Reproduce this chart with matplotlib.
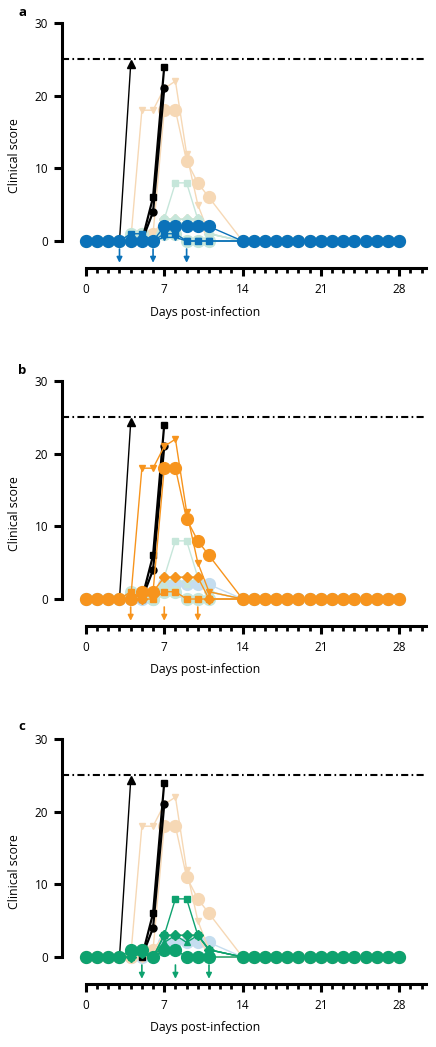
import numpy as np
import matplotlib.pyplot as plt

plt.rcParams['font.family'] = ['Open Sans', 'DejaVu Sans']

W, H = 436, 1047

# days with a clinical score (no scoring on day 12 and 13)
days = [0, 1, 2, 3, 4, 5, 6, 7, 8, 9, 10, 11,
        14, 15, 16, 17, 18, 19, 20, 21, 22, 23, 24, 25, 26, 27, 28]
late = [0, 0, 0, 0, 0, 0, 0, 0, 0, 0, 0, 0, 0, 0, 0]  # days 14-28

# untreated controls (black), only the visible part of each curve
ctrl_tri_days = [3, 4]
ctrl_tri = [0, 24.3]
ctrl_sq_days = [5, 6, 7]
ctrl_sq = [0, 6, 24]
ctrl_ci_days = [5, 6, 7]
ctrl_ci = [0, 4, 21]

# treated on days 3, 6, 9 (blue)
blue_ci = [0, 0, 0, 0, 0, 0, 0, 2, 2, 2, 2, 2] + late
blue_sq = [0, 0, 0, 0, 1, 1, 0, 1, 1, 0, 0, 0] + late
blue_tr = [0, 0, 0, 0, 0, 0, 0, 0.5, 0.5, 0, 0, 0] + late

# treated on days 4, 7, 10 (orange)
orng_tr = [0, 0, 0, 0, 0, 18, 18, 21, 22, 12, 5, 1] + late
orng_ci = [0, 0, 0, 0, 0, 1, 1, 18, 18, 11, 8, 6] + late
orng_di = [0, 0, 0, 0, 0, 0, 1, 3, 3, 3, 3, 0] + late
orng_sq = [0, 0, 0, 0, 1, 0, 0, 1, 1, 0, 0, 0] + late

# treated on days 5, 8, 11 (green)
grn_sq = [0, 0, 0, 0, 0.5, 0.5, 0, 3, 8, 8, 3, 1] + late
grn_di = [0, 0, 0, 0, 0, 0.5, 0, 3, 3, 3, 3, 1] + late
grn_tr = [0, 0, 0, 0, 0, 0.5, 0, 2, 3, 2, 3, 1] + late
grn_ci = [0, 0, 0, 0, 1, 1, 0, 1, 1, 0, 0, 0] + late

dose_days = [[3, 6, 9], [4, 7, 10], [5, 8, 11]]
xticks = [0, 7, 14, 21, 28]
panel_labels = ['a', 'b', 'c']

groups = [
    {'strong': '#0b72b9', 'pale': '#c4ddef',
     'mice': [(blue_sq, 's'), (blue_tr, 'v'), (blue_ci, 'o')]},
    {'strong': '#f7941d', 'pale': '#f6d8b5',
     'mice': [(orng_sq, 's'), (orng_di, 'D'), (orng_tr, 'v'), (orng_ci, 'o')]},
    {'strong': '#0ea26f', 'pale': '#c6e6da',
     'mice': [(grn_ci, 'o'), (grn_tr, '^'), (grn_di, 'D'), (grn_sq, 's')]},
]


def draw_group(ax, grp, color, z):
    for vals, m in grp['mice']:
        ms = 8.5 if m == 'o' else 4.6
        ax.plot(days, vals, color=color, marker=m, ms=ms, lw=1.0,
                mec=color, mfc=color, zorder=z)


fig = plt.figure(figsize=(W / 100, H / 100), dpi=100)

for i in range(3):
    top = 20.8 + 358 * i
    ax = fig.add_axes([62 / W, 1 - (top + 247.1) / H, 364 / W, 247.1 / H])
    ax.set_xlim(-2.14, 30.4)
    ax.set_ylim(-3.7, 30.3)

    # faded groups first, then controls, then the highlighted one
    for j, grp in enumerate(groups):
        if j != i:
            draw_group(ax, grp, grp['pale'], 2)
    ax.plot(ctrl_tri_days, ctrl_tri, color='black', lw=1.0, marker='^',
            ms=5.5, markevery=[1], zorder=3)
    ax.plot(ctrl_sq_days, ctrl_sq, color='black', lw=1.6, marker='s',
            ms=5, zorder=3)
    ax.plot(ctrl_ci_days, ctrl_ci, color='black', lw=1.6, marker='o',
            ms=5, markevery=[1, 2], zorder=3)
    draw_group(ax, groups[i], groups[i]['strong'], 4)

    ax.axhline(25, color='black', lw=1.5, ls=(0, (3.4, 1.6, 0.8, 1.6)), zorder=1)

    for d in dose_days[i]:
        ax.annotate('', xy=(d, -3.0), xytext=(d, -1.1),
                    arrowprops=dict(arrowstyle='-|>', color=groups[i]['strong'],
                                    lw=1.2, mutation_scale=8,
                                    shrinkA=0, shrinkB=0))

    for s in ['top', 'right']:
        ax.spines[s].set_visible(False)
    ax.spines['left'].set_bounds(0, 30)
    ax.spines['bottom'].set_bounds(0, 30.4)
    ax.spines['left'].set_linewidth(2.2)
    ax.spines['bottom'].set_linewidth(2.2)

    ax.set_yticks([0, 10, 20, 30])
    ax.set_xticks(xticks)
    ax.set_xticks(range(0, 31), minor=True)
    ax.tick_params(axis='y', length=6, width=2.2, pad=4, labelsize=8.5)
    ax.tick_params(axis='x', which='major', length=6, width=2.2, pad=5, labelsize=8.5)
    ax.tick_params(axis='x', which='minor', length=3.4, width=2.0)

    fig.text(15 / W, 1 - (156 + 358 * i) / H, 'Clinical score', rotation=90,
             ha='center', va='center', fontsize=8.8)
    fig.text(205 / W, 1 - (312 + 358 * i) / H, 'Days post-infection',
             ha='center', va='center', fontsize=8.8)
    fig.text(22 / W, 1 - (13 + 357 * i) / H, panel_labels[i], ha='center',
             va='center', fontsize=9.5, fontweight='bold')

fig.savefig('out.png', dpi=100)
